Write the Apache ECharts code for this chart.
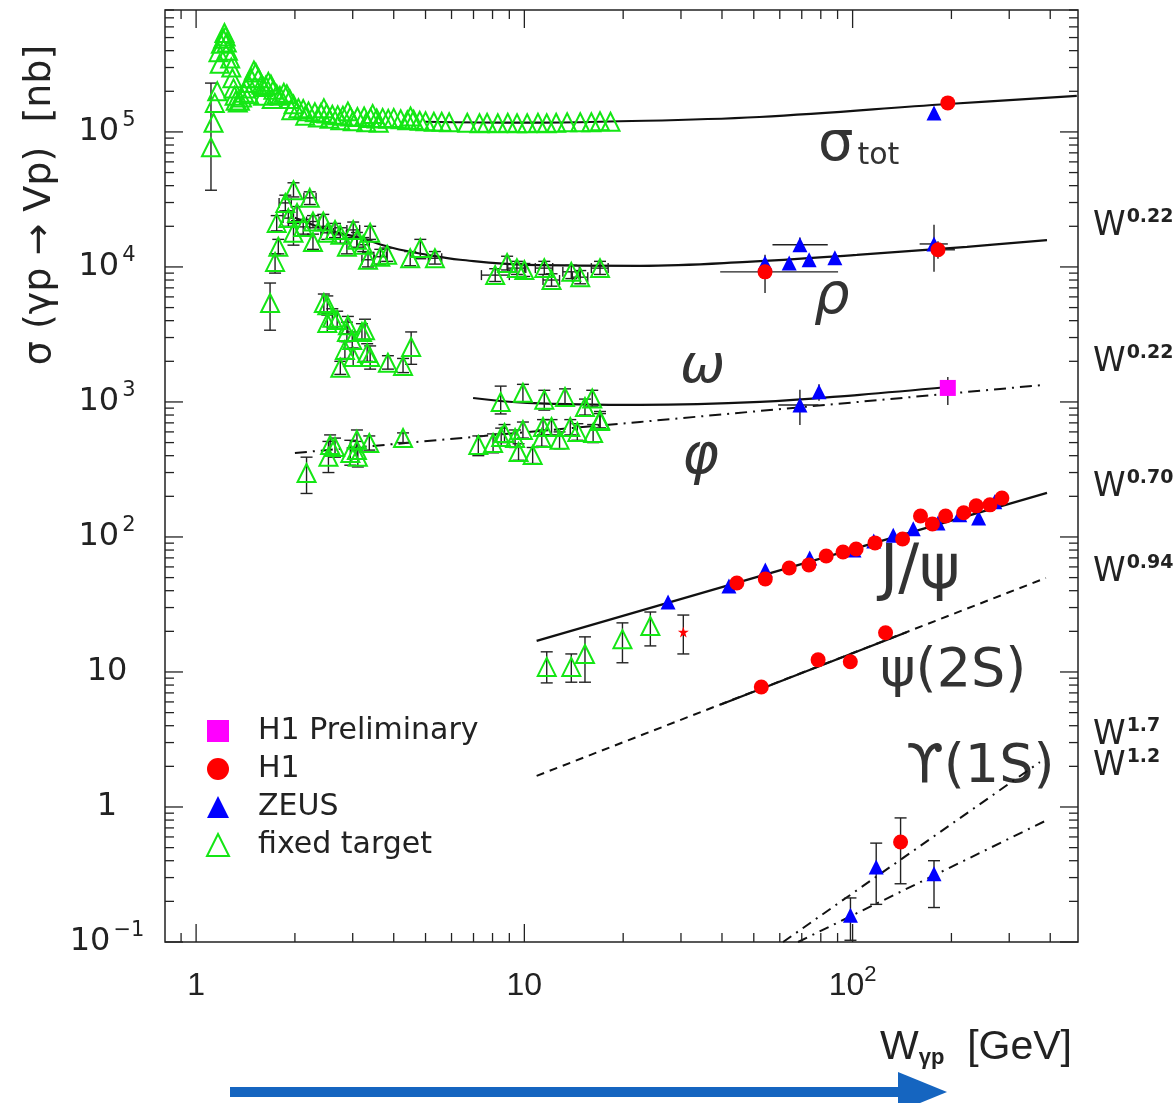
<!DOCTYPE html>
<html><head><meta charset="utf-8">
<script src="https://cdn.jsdelivr.net/npm/echarts@6/dist/echarts.min.js"></script>
<style>html,body{margin:0;padding:0;background:#fff}#c{width:1174px;height:1103px}</style>
</head><body><div id="c"></div>
<script>
// ---------------- axis ranges & tick labels ----------------
const X_MIN = 0.804, X_MAX = 486;
const Y_MIN = 0.1, Y_MAX = 8e5;
const xTickValues = [1, 10, 100];
const xTickLabels = ['{b|1}', '{b|10}', '{b|10}{s|2}'];
const yTickValues = [0.1, 1, 10, 100, 1000, 10000, 100000];
const yTickLabels = ['{b|10}{s|−1}', '{b|1}', '{b|10}', '{b|10}{s|2}', '{b|10}{s|3}', '{b|10}{s|4}', '{b|10}{s|5}'];

// ---------------- data: [W, sigma, sigLo, sigHi, Wlo, Whi] ----------------
const ftSigTot = [
 [1.11,7.7e4,3.7e4,2.3e5],[1.13,1.17e5],[1.14,1.64e5],[1.16,2.0e5],[1.17,3.9e5],[1.18,3.2e5],[1.19,4.5e5],
 [1.21,4.9e5],[1.22,5.4e5],[1.23,5.1e5],[1.24,4.6e5],[1.25,4.0e5],[1.27,3.5e5],[1.28,3.0e5],[1.29,2.5e5],
 [1.30,2.1e5],[1.31,1.85e5],[1.32,1.7e5],[1.34,1.65e5],[1.36,1.7e5],[1.38,1.8e5],[1.40,1.95e5],[1.42,2.1e5],
 [1.44,2.3e5],[1.45,1.9e5],[1.47,2.5e5],[1.50,2.85e5],[1.52,2.75e5],[1.55,2.5e5],[1.58,2.25e5],[1.60,2.15e5],
 [1.60,1.85e5],[1.63,2.2e5],[1.66,2.35e5],[1.69,2.25e5],[1.70,1.75e5],[1.72,2.05e5],[1.76,1.9e5],[1.80,1.85e5],
 [1.85,1.95e5],[1.89,1.9e5],[1.93,1.75e5],[1.95,1.45e5],[1.98,1.6e5],[2.05,1.5e5],[2.12,1.48e5],[2.15,1.32e5],
 [2.2,1.42e5],[2.3,1.40e5],[2.35,1.28e5],[2.4,1.38e5],[2.45,1.5e5],[2.5,1.37e5],[2.55,1.25e5],[2.6,1.34e5],
 [2.7,1.33e5],[2.75,1.22e5],[2.8,1.32e5],[2.9,1.42e5],[2.95,1.30e5],[3.0,1.2e5],[3.1,1.29e5],[3.25,1.30e5],
 [3.3,1.18e5],[3.4,1.27e5],[3.45,1.36e5],[3.55,1.26e5],[3.6,1.17e5],[3.7,1.27e5],[3.85,1.25e5],[4.0,1.27e5],
 [4.2,1.24e5],[4.4,1.22e5],[4.5,1.3e5],[4.6,1.23e5],[4.8,1.21e5],[5.0,1.2e5],[5.3,1.19e5],[5.6,1.19e5],
 [5.9,1.18e5],[6.7,1.17e5],[7.3,1.16e5],[7.7,1.17e5],[8.3,1.16e5],[8.9,1.17e5],[9.5,1.16e5],[10.2,1.16e5],
 [11.0,1.17e5],[11.7,1.16e5],[12.5,1.17e5],[13.5,1.18e5],[14.8,1.18e5],[16.0,1.18e5],[17.0,1.2e5],[18.3,1.19e5]
];
const ftRho = [
 [1.74,1.09e4,9.0e3,1.25e4],[1.78,1.41e4,1.25e4,1.6e4],[1.76,2.12e4,1.85e4,2.4e4],[1.87,2.98e4,2.6e4,3.4e4,1.79,1.95],
 [1.98,3.7e4,3.3e4,4.2e4],[2.22,3.25e4,2.9e4,3.6e4,2.13,2.32],[1.91,2.3e4,2.0e4,2.6e4,1.84,1.98],[1.98,1.79e4,1.45e4,2.1e4],
 [2.03,2.51e4,2.2e4,2.8e4],[2.12,1.98e4,1.75e4,2.25e4,2.02,2.22],[2.27,1.53e4,1.35e4,1.75e4],[2.27,2.17e4,1.95e4,2.4e4,2.17,2.37],
 [2.44,2.17e4,1.9e4,2.45e4],[2.51,1.79e4,1.6e4,2.0e4,2.4,2.62],[2.65,1.88e4,1.65e4,2.1e4],[2.75,1.73e4,1.5e4,1.95e4,2.63,2.87],
 [2.88,1.41e4,1.25e4,1.6e4],[3.01,1.88e4,1.65e4,2.15e4,2.88,3.15],[3.09,1.59e4,1.4e4,1.8e4],[3.23,1.46e4,1.3e4,1.65e4,3.09,3.37],
 [3.39,1.79e4,1.6e4,2.0e4],[3.34,1.13e4,1.0e4,1.28e4,3.2,3.49],[3.64,1.19e4,1.05e4,1.35e4,3.48,3.8],[3.82,1.23e4,1.1e4,1.38e4],
 [4.49,1.16e4,1.02e4,1.3e4],[4.82,1.38e4,1.15e4,1.6e4],[5.34,1.16e4,1.05e4,1.3e4,5.1,5.6],[8.15,8.7e3,7.8e3,9.7e3,7.4,9.0],
 [8.86,1.07e4,9.5e3,1.2e4],[9.49,9.8e3,8.8e3,1.1e4,8.9,10.1],[10.0,9.5e3,8.5e3,1.06e4],[11.5,9.8e3,8.8e3,1.1e4,10.8,12.2],
 [12.1,8.0e3,7.2e3,8.9e3,11.4,12.8],[13.9,9.2e3,8.2e3,1.03e4,13.1,14.7],[14.8,8.4e3,7.5e3,9.4e3,14.0,15.6],[17.0,9.8e3,8.8e3,1.1e4,16.0,18.0]
];
const ftOmega = [
 [1.68,5.4e3,3.4e3,7.6e3],[2.45,5.4e3,4.6e3,6.3e3],[2.51,5.2e3,4.4e3,6.1e3],[2.60,4.2e3,3.6e3,4.9e3],[2.51,3.85e3,3.3e3,4.5e3],
 [2.69,4.05e3,3.5e3,4.7e3],[2.90,3.7e3,3.2e3,4.3e3],[2.88,3.3e3,2.8e3,3.9e3],[2.99,2.88e3,2.5e3,3.3e3],[2.84,2.43e3,2.1e3,2.8e3],
 [3.01,2.15e3,1.85e3,2.5e3],[3.20,3.3e3,2.9e3,3.8e3],[3.27,3.4e3,2.9e3,4.1e3],[3.32,2.3e3,2.0e3,2.7e3],[3.39,2.15e3,1.75e3,2.6e3],
 [2.75,1.79e3,1.6e3,2.0e3],[3.84,1.95e3,1.75e3,2.2e3],[4.27,1.85e3,1.65e3,2.1e3],[4.52,2.55e3,1.9e3,3.3e3],
 [8.47,1.0e3,815,1.31e3],[9.9,1.17e3,1.0e3,1.35e3],[11.5,1.04e3,870,1.22e3],[13.3,1.09e3,950,1.25e3],[16.1,1.06e3,920,1.22e3],
 [15.3,918,800,1.05e3],[17.0,736,640,850]
];
const ftPhi = [
 [2.17,298,210,390],[2.53,392,300,510],[2.56,480,400,570],[2.65,464,390,540],[2.95,419,340,520],[3.09,524,440,620],
 [3.09,441,380,510],[3.11,392,330,460],[3.37,497,440,560],[4.27,541,500,590],[7.24,480,400,560],[8.03,497,420,580],
 [8.5,551,470,640],[8.7,589,500,680],[9.37,541,460,620],[9.6,426,370,490],[9.9,621,540,710],[10.6,405,350,460],
 [11.3,541,470,620],[11.4,653,570,740],[12.1,653,570,740],[12.8,524,450,600],[13.8,653,570,740],[14.5,600,520,690],
 [16.2,589,500,680],[17.0,723,640,820]
];
const ftJpsi = [[11.7,10.9,8.3,14.1],[13.9,10.9,8.4,13.6],[15.3,13.6,8.4,18.2],[19.9,17.5,11.7,23.1],[24.2,21.9,15.6,27.8]];
const starJpsi = [[30.5,19.8,13.6,26.4]];

const h1SigTot = [[195,1.64e5]];
const h1Rho = [[54.1,9.2e3,6.4e3,1.23e4,39.5,90.3],[182,1.34e4,1.15e4,1.55e4,175,205]];
const h1Jpsi = [[44.4,45.6],[54.2,48.9,44,54],[64.1,58.9],[73.6,62.1],[83.1,72.3],[93.5,77.4,70,85],[102.5,81.5],[117,90.4],
 [142,96.7,86,108],[161,143],[175,125,112,138],[192,143,130,157],[218,151,138,165],[238,170,156,185],[262,173,158,190],[285,194,176,212]];
const h1Psi2S = [[52.7,7.74],[78.5,12.3],[98.4,11.9],[126,19.5]];
const h1Ups = [[140,0.55,0.27,0.83]];
const h1Prelim = [[195,1.27e3,950,1.53e3]];

const zeusSigTot = [[177,1.38e5,1.25e5,1.5e5]];
const zeusRho = [[54.1,1.07e4],[64.1,1.07e4],[69.1,1.46e4,1.3e4,1.65e4,57,84],[73.7,1.13e4],[88.3,1.17e4],[177,1.48e4,9.2e3,2.05e4,160,195]];
const zeusOmega = [[79,1.19e3,1.02e3,1.35e3]];
const zeusPhi = [[69.1,950,676,1.23e3,59.3,78.7]];
const zeusJpsi = [[27.4,33],[42,43.4],[54.2,57],[74,69.8],[101,80.1],[116,93.4],[133,103],[153,115],[182,127],[212,146],[242,138],[271,182]];
const zeusUps = [[98.5,0.158,0.103,0.212],[118,0.36,0.19,0.54],[177,0.32,0.18,0.40]];

// fitted curves
const fitSigTot = [[4.98,1.19e5],[10,1.17e5],[17,1.19e5],[52,1.29e5],[195,1.61e5],[482,1.85e5]];
const fitRho = [[2.0,2.31e4],[2.51,1.88e4],[3.16,1.64e4],[3.98,1.38e4],[5.05,1.23e4],[6.37,1.13e4],[10.2,1.035e4],[22.5,1.02e4],[47.7,1.09e4],[103,1.23e4],[223,1.41e4],[391,1.58e4]];
const fitOmega = [[6.98,1.07e3],[10.2,984],[22.5,950],[52.2,1000],[105,1.13e3],[195,1.29e3]];
const fitPhi = [[2.0,419],[22.5,711],[386,1.34e3]];
const fitJpsi = [[10.9,17.0],[391,212]];
const fitPsi2Sdash = [[10.9,1.70],[388,49.7]];
const fitPsi2Ssolid = [[39.5,5.72],[146,19.7]];
const fitUps17 = [[61.4,0.1],[372,2.15]];
const fitUps12 = [[68.2,0.1],[391,0.80]];

// ---------------- build ----------------
const ftAll = [].concat(ftSigTot, ftRho, ftOmega, ftPhi, ftJpsi);
const h1All = [].concat(h1SigTot, h1Rho, h1Jpsi, h1Psi2S, h1Ups);
const zeusAll = [].concat(zeusSigTot, zeusRho, zeusOmega, zeusPhi, zeusJpsi, zeusUps);
function errRows(arr, cap){ return arr.map(p => [p[0], p[1], p[2]||0, p[3]||0, p[4]||0, p[5]||0, cap]); }
const errData = [].concat(errRows(ftAll,1), errRows(starJpsi,1), errRows(h1Ups,1), errRows(zeusUps,1),
  errRows([].concat(h1SigTot,h1Rho,h1Jpsi,h1Psi2S,h1Prelim,zeusSigTot,zeusRho,zeusOmega,zeusPhi,zeusJpsi),0));
const pts = a => a.map(p => [p[0], p[1]]);

const tickData = [];
for (let k = -1; k <= 2; k++) for (let m = 1; m <= 9; m++) { const v = m * Math.pow(10, k); if (v >= X_MIN && v <= X_MAX) tickData.push([v, 1, 0, m === 1 ? 1 : 0]); }
for (let k = -1; k <= 5; k++) for (let m = 1; m <= 9; m++) { const v = m * Math.pow(10, k); if (v >= Y_MIN && v <= Y_MAX) tickData.push([1, v, 1, m === 1 ? 1 : 0]); }

function fmt(vals, labs){ return function(v){ for (let i=0;i<vals.length;i++){ if (Math.abs(Math.log10(v)-Math.log10(vals[i]))<1e-6) return labs[i]; } return ''; }; }

const INK = '#222';
function lineSeries(name, data, type, width){
  return {type:'line', name:name, data:data, showSymbol:false, symbol:'none', smooth: data.length>3 ? 0.4 : false, z:2, silent:true,
    lineStyle:{color:'#111', width: width||2.2, type: type||'solid'}};
}
const dashDot = [12,6,2,6];
const wRich = {w:{fontSize:33,fontFamily:'DejaVu Sans',fill:INK,lineHeight:40}, e:{fontSize:19,fontFamily:'DejaVu Sans',fontWeight:'bold',fill:INK,lineHeight:40,padding:[0,0,18,1]}};
const procFont = '"DejaVu Sans"';

const chart = echarts.init(document.getElementById('c'), null, {renderer:'canvas'});
chart.setOption({
  animation:false,
  backgroundColor:'#fff',
  grid:{left:165, right:96, top:10, bottom:161, show:true, borderColor:INK, borderWidth:1.5, backgroundColor:'transparent'},
  xAxis:{type:'log', logBase:10, min:X_MIN, max:X_MAX, splitLine:{show:false}, axisLine:{show:false}, axisTick:{show:false},
    axisLabel:{margin:24, formatter:fmt(xTickValues,xTickLabels), showMinLabel:true, showMaxLabel:true,
      rich:{b:{fontSize:32, fontFamily:'Liberation Sans Narrow, Liberation Sans', color:INK, lineHeight:40},
            s:{fontSize:22, fontFamily:'Liberation Sans Narrow, Liberation Sans', color:INK, lineHeight:40, padding:[0,0,22,0]}}}},
  yAxis:{type:'log', logBase:10, min:Y_MIN, max:Y_MAX, splitLine:{show:false}, axisLine:{show:false}, axisTick:{show:false},
    axisLabel:{margin:58, align:'center', formatter:fmt(yTickValues,yTickLabels),
      rich:{b:{fontSize:32, fontFamily:'DejaVu Sans', color:INK, lineHeight:40},
            s:{fontSize:21, fontFamily:'DejaVu Sans', color:INK, lineHeight:40, padding:[0,0,22,3]}}}},
  legend:{show:true, orient:'vertical', left:201, top:711, itemWidth:22, itemHeight:22, itemGap:8,
    data:['H1 Preliminary','H1','ZEUS','fixed target'],
    textStyle:{fontSize:30, fontFamily:'DejaVu Sans', color:INK, lineHeight:30, padding:[0,0,0,24]}},
  series:[
    {type:'custom', name:'ticks', silent:true, z:10, data:tickData, encode:{x:0,y:1},
      renderItem:function(params, api){
        const cs = params.coordSys; const isY = api.value(2)===1; const L = api.value(3)===1 ? 18 : 9;
        const st = {stroke:INK, lineWidth:1.3};
        if (!isY){ const px = api.coord([api.value(0), 1])[0];
          return {type:'group', children:[
            {type:'line', shape:{x1:px,y1:cs.y+cs.height,x2:px,y2:cs.y+cs.height-L}, style:st},
            {type:'line', shape:{x1:px,y1:cs.y,x2:px,y2:cs.y+L}, style:st}]}; }
        const py = api.coord([1, api.value(1)])[1];
        return {type:'group', children:[
          {type:'line', shape:{x1:cs.x,y1:py,x2:cs.x+L,y2:py}, style:st},
          {type:'line', shape:{x1:cs.x+cs.width,y1:py,x2:cs.x+cs.width-L,y2:py}, style:st}]};
      }},
    lineSeries('fit σtot', fitSigTot),
    lineSeries('fit ρ', fitRho),
    lineSeries('fit ω', fitOmega),
    lineSeries('fit φ', fitPhi, dashDot, 2),
    lineSeries('fit J/ψ', fitJpsi),
    lineSeries('fit ψ2S dash', fitPsi2Sdash, [8,6], 2),
    lineSeries('fit ψ2S', fitPsi2Ssolid),
    lineSeries('fit ϒ 1.7', fitUps17, [10,6,2,6], 2),
    lineSeries('fit ϒ 1.2', fitUps12, [10,6,2,6], 2),
    {type:'custom', name:'errors', silent:true, z:3, data:errData, encode:{x:0,y:1},
      renderItem:function(params, api){
        const x=api.value(0), y=api.value(1), lo=api.value(2), hi=api.value(3), wl=api.value(4), wh=api.value(5), cap=api.value(6);
        const st = {stroke:INK, lineWidth:1.4}; const ch = [];
        if (lo>0 && hi>0){ const a=api.coord([x,lo]), b=api.coord([x,hi]);
          ch.push({type:'line', shape:{x1:a[0],y1:a[1],x2:b[0],y2:b[1]}, style:st});
          if (cap===1){ ch.push({type:'line', shape:{x1:a[0]-6,y1:a[1],x2:a[0]+6,y2:a[1]}, style:st});
                        ch.push({type:'line', shape:{x1:b[0]-6,y1:b[1],x2:b[0]+6,y2:b[1]}, style:st}); } }
        if (wl>0 && wh>0){ const a=api.coord([wl,y]), b=api.coord([wh,y]);
          ch.push({type:'line', shape:{x1:a[0],y1:a[1],x2:b[0],y2:b[1]}, style:st});
          if (cap===1){ ch.push({type:'line', shape:{x1:a[0],y1:a[1]-5,x2:a[0],y2:a[1]+5}, style:st});
                        ch.push({type:'line', shape:{x1:b[0],y1:b[1]-5,x2:b[0],y2:b[1]+5}, style:st}); } }
        return {type:'group', children:ch};
      }},
    {type:'scatter', name:'fixed target', data:pts(ftAll), symbol:'triangle', symbolSize:18, z:5,
      itemStyle:{color:'rgba(255,255,255,0)', borderColor:'#14e614', borderWidth:2, opacity:1}},
    {type:'scatter', name:'ZEUS', data:pts(zeusAll), symbol:'triangle', symbolSize:15, z:6, itemStyle:{color:'#0000ff', opacity:1}},
    {type:'scatter', name:'H1', data:pts(h1All), symbol:'circle', symbolSize:15, z:7, itemStyle:{color:'#ff0000', opacity:1}},
    {type:'scatter', name:'H1 Preliminary', data:pts(h1Prelim), symbol:'rect', symbolSize:16, z:7, itemStyle:{color:'#ff00ff', opacity:1}},
    {type:'scatter', name:'star', data:pts(starJpsi), z:7, symbolSize:11, itemStyle:{color:'#ff0000', opacity:1},
      symbol:'path://M50,0 L61,35 L98,35 L68,57 L79,91 L50,70 L21,91 L32,57 L2,35 L39,35 Z'}
  ],
  graphic:[
    {type:'text', x:40, y:205, rotation:Math.PI/2, style:{text:'σ (γp → Vp)  [nb]', font:'38px "DejaVu Sans"', fill:INK, align:'center', verticalAlign:'middle'}},
    {type:'text', x:880, y:1048, style:{text:'{a|W}{g|γp}{a|  [GeV]}', verticalAlign:'middle',
      rich:{a:{fontSize:41, fontFamily:'Liberation Sans Narrow, Liberation Sans', fill:INK, lineHeight:46},
            g:{fontSize:22, fontFamily:'Liberation Sans', fontWeight:'bold', fill:INK, lineHeight:46, padding:[20,0,0,0]}}}},
    {type:'line', shape:{x1:230,y1:1092,x2:910,y2:1092}, style:{stroke:'#1565c0', lineWidth:10}},
    {type:'polygon', shape:{points:[[898,1072],[947,1092],[898,1112]]}, style:{fill:'#1565c0'}},
    // process labels
    {type:'text', x:818, y:145, style:{text:'{a|σ}{b|tot}', verticalAlign:'middle',
      rich:{a:{fontSize:56, fontFamily:'DejaVu Sans', fill:'#333', lineHeight:60}, b:{fontSize:30, fontFamily:'DejaVu Sans', fill:'#333', lineHeight:60, padding:[22,0,0,4]}}}},
    {type:'text', x:814, y:298, style:{text:'ρ', font:'italic 56px ' + procFont, fill:'#333', verticalAlign:'middle'}},
    {type:'text', x:680, y:368, style:{text:'ω', font:'italic 54px ' + procFont, fill:'#333', verticalAlign:'middle'}},
    {type:'text', x:682, y:458, style:{text:'φ', font:'italic 56px ' + procFont, fill:'#333', verticalAlign:'middle'}},
    {type:'text', x:880, y:572, style:{text:'J/ψ', font:'62px ' + procFont, fill:'#333', verticalAlign:'middle'}},
    {type:'text', x:880, y:672, style:{text:'ψ(2S)', font:'54px ' + procFont, fill:'#333', verticalAlign:'middle'}},
    {type:'text', x:906, y:768, style:{text:'ϒ(1S)', font:'54px ' + procFont, fill:'#333', verticalAlign:'middle'}},
    // power-law labels on the right
    {type:'text', x:1093, y:226, style:{text:'{w|W}{e|0.22}', verticalAlign:'middle', rich:wRich}},
    {type:'text', x:1093, y:362, style:{text:'{w|W}{e|0.22}', verticalAlign:'middle', rich:wRich}},
    {type:'text', x:1093, y:487, style:{text:'{w|W}{e|0.70}', verticalAlign:'middle', rich:wRich}},
    {type:'text', x:1093, y:572, style:{text:'{w|W}{e|0.94}', verticalAlign:'middle', rich:wRich}},
    {type:'text', x:1093, y:735, style:{text:'{w|W}{e|1.7}', verticalAlign:'middle', rich:wRich}},
    {type:'text', x:1093, y:766, style:{text:'{w|W}{e|1.2}', verticalAlign:'middle', rich:wRich}}
  ]
});
</script></body></html>
